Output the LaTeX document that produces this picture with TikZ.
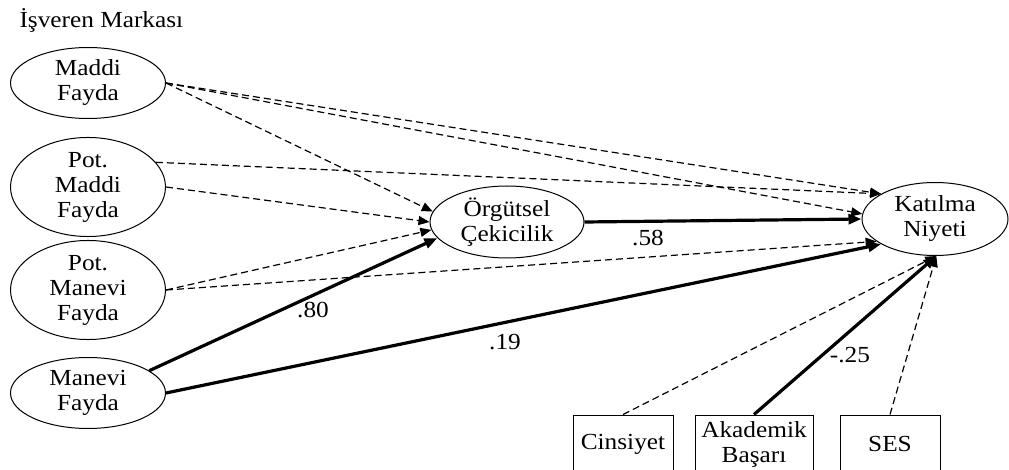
\documentclass[tikz,border=0pt]{standalone}
\usepackage{fontspec}
\setmainfont{Liberation Serif}[FakeStretch=1.1]
\usepackage{tikz}
\usetikzlibrary{arrows.meta,shapes.geometric}

\begin{document}
\begin{tikzpicture}[x=1pt,y=-1pt,font=\fontsize{23}{25}\selectfont,
  latent/.style={draw,ellipse,line width=1pt,inner sep=0pt,align=center,minimum width=155pt,minimum height=71pt},
  observed/.style={draw,rectangle,line width=1pt,inner sep=2pt,align=center,minimum height=58pt},
  nonsig/.style={line width=1.2pt,dash pattern=on 7pt off 4pt,-{Triangle[length=11pt,width=9pt]}},
  sig/.style={line width=3.2pt,-{Triangle[length=13pt,width=10pt]}}]
  \useasboundingbox (0,0) rectangle (1009,470);
  \clip (0,0) rectangle (1009,470);
  % measurement side
  \node[anchor=west] (title) at (16,20) {İşveren Markası};
  \node[latent] (maddi) at (88,83) {Maddi\\Fayda};
  \node[latent] (potmaddi) at (88,187) {Pot.\\Maddi\\Fayda};
  \node[latent] (potmanevi) at (88,290) {Pot.\\Manevi\\Fayda};
  \node[latent] (manevi) at (88,393) {Manevi\\Fayda};
  \node[latent,minimum width=154pt,minimum height=72pt] (orgutsel) at (507,222) {Örgütsel\\Çekicilik};
  \node[latent,minimum width=146pt,minimum height=73pt] (katilma) at (935,219) {Katılma\\Niyeti};
  % controls
  \node[observed,minimum width=100pt] (cinsiyet) at (623,444) {Cinsiyet};
  \node[observed,minimum width=118pt] (akademik) at (754,444) {Akademik\\Başarı};
  \node[observed,minimum width=100pt] (ses) at (890,444) {SES};
  % paths
  \draw[nonsig] (maddi.east) -- (orgutsel.172);
  \draw[nonsig] (maddi.east) -- (katilma.155);
  \draw[nonsig] (maddi.east) -- (katilma.176);
  \draw[nonsig] (potmaddi.20) -- (katilma.155);
  \draw[nonsig] (potmaddi.east) -- (orgutsel.180);
  \draw[nonsig] (potmanevi.east) -- (orgutsel.186);
  \draw[nonsig] (potmanevi.east) -- (katilma.201);
  \draw[sig] (manevi.20) -- (orgutsel.193);
  \draw[sig] (manevi.east) -- (katilma.205);
  \draw[sig] (orgutsel.east) -- (katilma.west);
  \draw[nonsig] (cinsiyet.north) -- (katilma.272);
  \draw[sig] (akademik.north) -- (katilma.272);
  \draw[nonsig] (ses.north) -- (katilma.272);
  % coefficients
  \node (c80) at (313,310) {.80};
  \node (c58) at (648,238) {.58};
  \node (c19) at (505,342) {.19};
  \node (c25) at (850,355) {-.25};
\end{tikzpicture}
\end{document}
